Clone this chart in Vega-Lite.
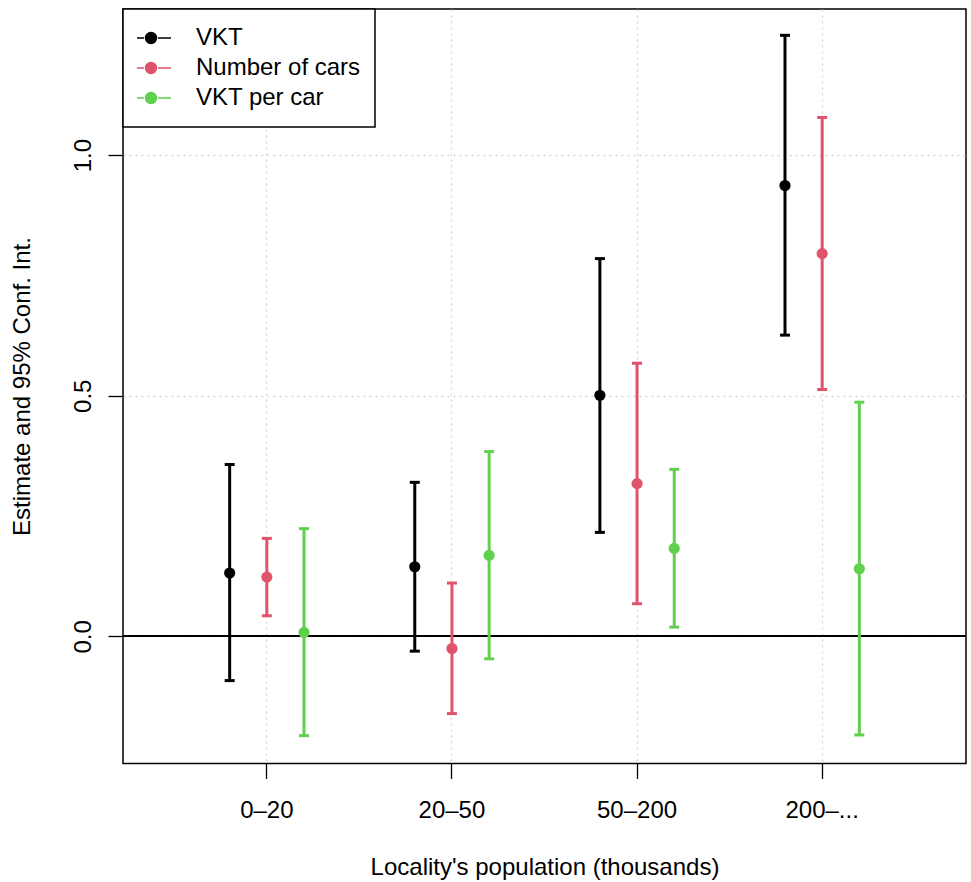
{
  "$schema": "https://vega.github.io/schema/vega-lite/v6.json",
  "autosize": {"type": "none"},
  "padding": {"left": 123, "top": 9, "right": 5, "bottom": 118.5},
  "width": 843,
  "height": 754.5,
  "config": {
    "font": "Liberation Sans",
    "view": {"stroke": "black", "strokeWidth": 1.5}
  },
  "data": {
    "values": [
      {"pop": "0–20", "series": "VKT", "est": 0.1315, "lo": -0.092, "hi": 0.357},
      {"pop": "0–20", "series": "Number of cars", "est": 0.123, "lo": 0.0427, "hi": 0.2035},
      {"pop": "0–20", "series": "VKT per car", "est": 0.008, "lo": -0.2064, "hi": 0.2237},
      {"pop": "20–50", "series": "VKT", "est": 0.1446, "lo": -0.0308, "hi": 0.32},
      {"pop": "20–50", "series": "Number of cars", "est": -0.0254, "lo": -0.1606, "hi": 0.1107},
      {"pop": "20–50", "series": "VKT per car", "est": 0.1681, "lo": -0.0468, "hi": 0.3839},
      {"pop": "50–200", "series": "VKT", "est": 0.501, "lo": 0.216, "hi": 0.7849},
      {"pop": "50–200", "series": "Number of cars", "est": 0.3173, "lo": 0.0676, "hi": 0.5676},
      {"pop": "50–200", "series": "VKT per car", "est": 0.1827, "lo": 0.0191, "hi": 0.347},
      {"pop": "200–...", "series": "VKT", "est": 0.9367, "lo": 0.6259, "hi": 1.2489},
      {"pop": "200–...", "series": "Number of cars", "est": 0.7953, "lo": 0.5129, "hi": 1.0782},
      {"pop": "200–...", "series": "VKT per car", "est": 0.1404, "lo": -0.205, "hi": 0.4865}
    ]
  },
  "encoding": {
    "x": {
      "field": "pop", "type": "nominal",
      "sort": ["0–20", "20–50", "50–200", "200–..."],
      "scale": {"paddingInner": 0, "paddingOuter": 0.277},
      "axis": {
        "title": "Locality's population (thousands)",
        "labelAngle": 0, "labelFontSize": 24, "labelColor": "black", "labelPadding": 20,
        "tickSize": 15, "tickColor": "black", "tickWidth": 1.3, "bandPosition": 0.5,
        "domain": false,
        "grid": true, "gridColor": "#D3D3D3", "gridDash": [2, 4], "gridWidth": 1.3,
        "titleFontSize": 24, "titleFontWeight": "normal", "titleColor": "black",
        "titleBaseline": "alphabetic", "titleY": 111
      }
    },
    "xOffset": {
      "field": "series", "type": "nominal",
      "sort": ["VKT", "Number of cars", "VKT per car"],
      "scale": {"paddingInner": 0, "paddingOuter": 0.99}
    },
    "color": {
      "field": "series", "type": "nominal",
      "sort": ["VKT", "Number of cars", "VKT per car"],
      "scale": {"domain": ["VKT", "Number of cars", "VKT per car"], "range": ["#000000", "#DF536B", "#61D04F"]},
      "legend": {
        "title": null, "orient": "none", "legendX": 0, "legendY": 0,
        "direction": "vertical",
        "strokeColor": "black", "fillColor": "white",
        "padding": 14, "clipHeight": 30, "rowPadding": 0,
        "labelFontSize": 24, "labelColor": "black", "labelOffset": 17, "labelLimit": 400,
        "symbolSize": 1600,
        "symbolType": "M-1.35,0H-0.7M0,0H0.65M-0.075,0A0.275,0.275,0,1,1,-0.625,0A0.275,0.275,0,1,1,-0.075,0Z",
        "encode": {
          "legend": {"update": {"strokeWidth": {"value": 1.5}}},
          "symbols": {
            "update": {
              "fill": {"scale": "color", "field": "value"},
              "stroke": {"scale": "color", "field": "value"},
              "strokeWidth": {"value": 1.4},
              "opacity": {"value": 1}
            }
          }
        }
      }
    }
  },
  "layer": [
    {
      "mark": {"type": "rule", "color": "black", "strokeWidth": 1.4},
      "encoding": {
        "y": {"datum": 0},
        "x": null, "xOffset": null, "color": null
      }
    },
    {
      "mark": {"type": "rule", "strokeWidth": 3},
      "encoding": {
        "y": {
          "field": "lo", "type": "quantitative",
          "scale": {"domain": [-0.2643, 1.3036], "nice": false, "zero": false},
          "axis": {
            "values": [0, 0.5, 1], "format": ".1f",
            "title": "Estimate and 95% Conf. Int.",
            "labelAngle": 270, "labelAlign": "center", "labelBaseline": "alphabetic",
            "labelFontSize": 24, "labelColor": "black", "labelPadding": 18,
            "tickSize": 15, "tickColor": "black", "tickWidth": 1.3,
            "domain": false,
            "grid": true, "gridColor": "#D3D3D3", "gridDash": [2, 4], "gridWidth": 1.3,
            "titleFontSize": 24, "titleFontWeight": "normal", "titleColor": "black",
            "titleAngle": 270, "titleBaseline": "alphabetic", "titleAlign": "center",
            "titleX": -94, "titleY": 377
          }
        },
        "y2": {"field": "hi"}
      }
    },
    {
      "mark": {"type": "tick", "size": 10, "thickness": 3, "orient": "horizontal", "opacity": 1},
      "encoding": {"y": {"field": "lo", "type": "quantitative"}}
    },
    {
      "mark": {"type": "tick", "size": 10, "thickness": 3, "orient": "horizontal", "opacity": 1},
      "encoding": {"y": {"field": "hi", "type": "quantitative"}}
    },
    {
      "mark": {"type": "point", "filled": true, "size": 125, "opacity": 1, "shape": "circle"},
      "encoding": {"y": {"field": "est", "type": "quantitative"}}
    }
  ]
}
